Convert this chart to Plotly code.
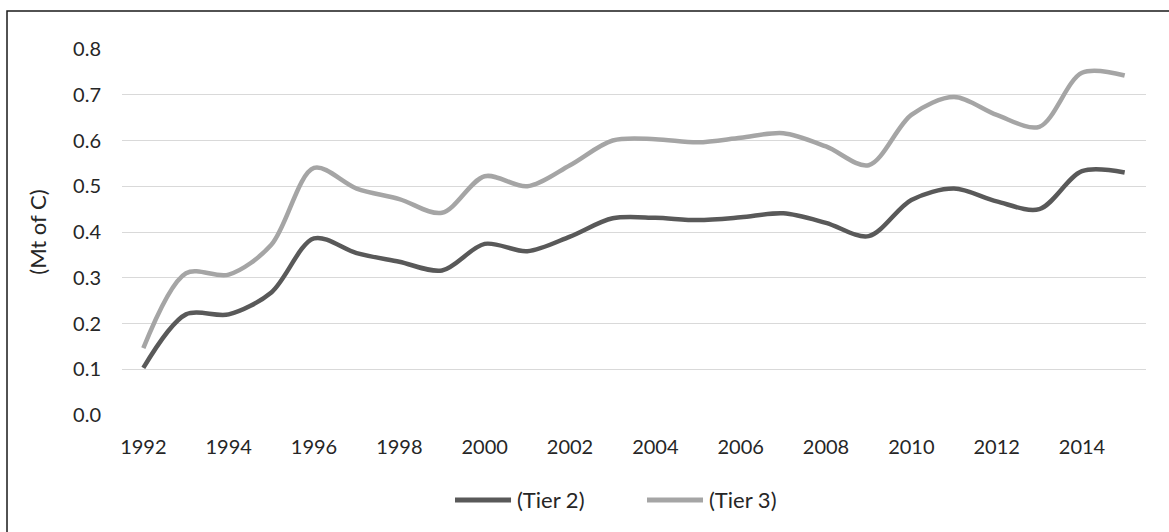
import plotly.graph_objects as go

years = list(range(1992, 2016))
tier2 = [0.103, 0.22, 0.22, 0.268, 0.386, 0.354, 0.335, 0.316, 0.374, 0.358, 0.39, 0.43,
         0.431, 0.426, 0.432, 0.441, 0.42, 0.391, 0.47, 0.495, 0.467, 0.45, 0.533, 0.53]
tier3 = [0.146, 0.31, 0.307, 0.372, 0.54, 0.495, 0.472, 0.442, 0.522, 0.5, 0.546, 0.6,
         0.603, 0.596, 0.606, 0.616, 0.587, 0.546, 0.656, 0.695, 0.656, 0.63, 0.748, 0.742]
series_names = ["(Tier 2)", "(Tier 3)"]
series_colors = ["#595959", "#A5A5A5"]
y_ticks = [0.0, 0.1, 0.2, 0.3, 0.4, 0.5, 0.6, 0.7, 0.8]
x_ticks = list(range(1992, 2016, 2))

FONT = "Lato, 'Open Sans', sans-serif"
TXT = "#262626"

fig = go.Figure()
for name, vals, color in zip(series_names, [tier2, tier3], series_colors):
    fig.add_trace(go.Scatter(
        x=years, y=vals, name=name, mode="lines", showlegend=False,
        line=dict(color=color, width=4.5, shape="spline", smoothing=0.9),
    ))

fig.update_layout(
    width=1169, height=532,
    margin=dict(l=122, r=23, t=49, b=117),
    paper_bgcolor="white", plot_bgcolor="white",
    font=dict(family=FONT, size=20, color=TXT),
    xaxis=dict(range=[1991.5, 2015.5], tickmode="array", tickvals=x_ticks,
               ticktext=[str(v) for v in x_ticks], showgrid=False, zeroline=False,
               showline=False, ticks="", ticklabelstandoff=18,
               tickfont=dict(size=20, color=TXT)),
    yaxis=dict(range=[0, 0.8], tickmode="array", tickvals=y_ticks,
               ticktext=[f"{v:.1f}" for v in y_ticks], showgrid=True,
               gridcolor="#D9D9D9", gridwidth=1.3, zeroline=False, showline=False,
               ticks="", ticklabelstandoff=20, tickfont=dict(size=20, color=TXT),
               title=dict(text="(Mt of C)", standoff=20, font=dict(size=22, color=TXT))),
)

# legend below the plot: a line sample followed by the series name
legend_y = -0.2322
legend_slots = [(0.3252, 0.3799, 0.3838), (0.5127, 0.5674, 0.5713)]
for (x0, x1, xt), name, color in zip(legend_slots, series_names, series_colors):
    fig.add_shape(type="line", xref="paper", yref="paper", x0=x0, x1=x1,
                  y0=legend_y, y1=legend_y, line=dict(color=color, width=5))
    fig.add_annotation(xref="paper", yref="paper", x=xt, y=legend_y, text=name,
                       showarrow=False, xanchor="left", yanchor="middle",
                       font=dict(size=22, color=TXT, family=FONT))

# chart-area border (extends past the visible window on right and bottom)
fig.add_shape(type="rect", xref="paper", yref="paper",
              x0=-0.1123, x1=1.2, y0=-0.6, y1=1.1038,
              line=dict(color="#1a1a1a", width=1.5), fillcolor="rgba(0,0,0,0)", layer="above")

fig.write_html("out.html")
